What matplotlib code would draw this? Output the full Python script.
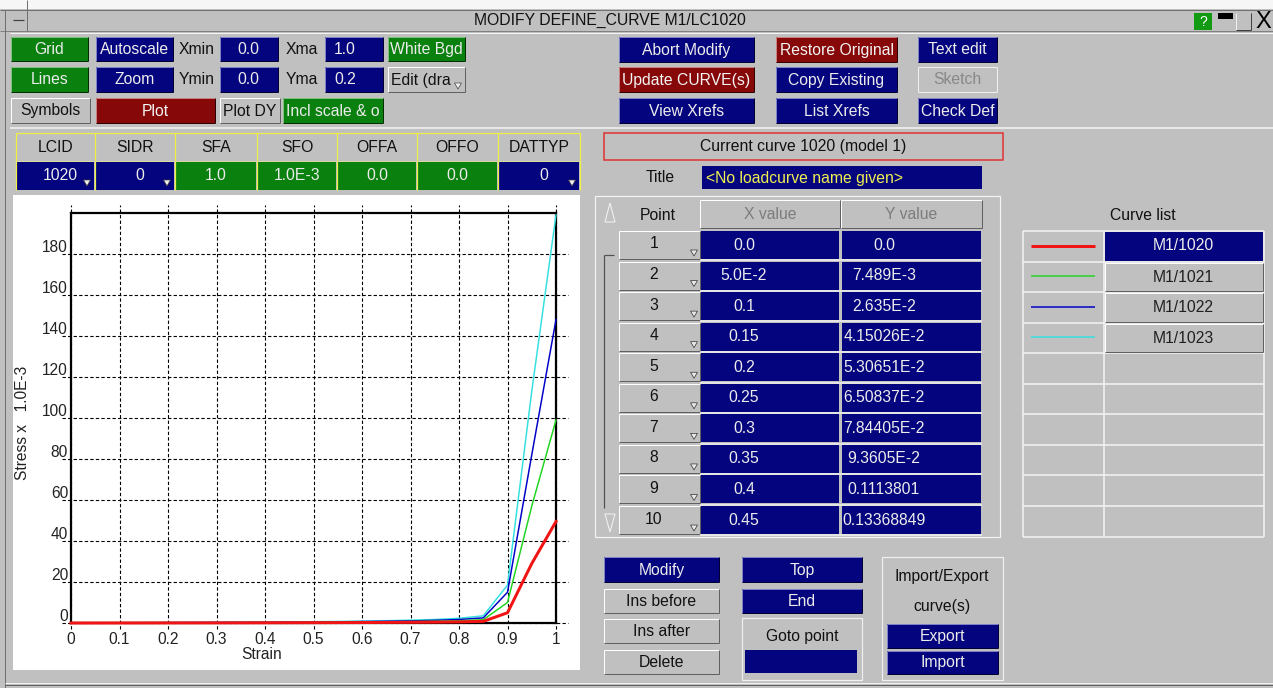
import matplotlib
matplotlib.use('Agg')
import matplotlib.pyplot as plt
from matplotlib.patches import Rectangle, Polygon
import matplotlib.transforms as mtrans
from matplotlib import font_manager

plt.rcParams['font.family'] = ['Liberation Sans', 'DejaVu Sans']
_names = {f.name for f in font_manager.fontManager.ttflist}
if 'Liberation Sans Narrow' in _names:
    TICK_FAMILY, TICK_FS = ['Liberation Sans Narrow', 'DejaVu Sans'], 12.8
else:
    TICK_FAMILY, TICK_FS = ['Liberation Sans', 'DejaVu Sans'], 11.2

# ---------------- data ----------------
strain = [0.0, 0.05, 0.1, 0.15, 0.2, 0.25, 0.3, 0.35, 0.4, 0.45, 0.5,
          0.55, 0.6, 0.65, 0.7, 0.75, 0.8, 0.85, 0.9, 0.95, 1.0]
curve_1020 = [0.0, 0.007489, 0.02635, 0.0415026, 0.0530651, 0.0650837, 0.0784405,
              0.093605, 0.1113801, 0.13368849, 0.16, 0.19, 0.23, 0.28, 0.34,
              0.42, 0.55, 0.8, 5.0, 29.0, 49.5]
curve_1021 = [0.0, 0.015, 0.05, 0.08, 0.1, 0.13, 0.16, 0.19, 0.22, 0.27, 0.32,
              0.38, 0.46, 0.56, 0.68, 0.85, 1.1, 1.6, 10.0, 57.0, 99.0]
curve_1022 = [0.0, 0.022, 0.08, 0.12, 0.16, 0.2, 0.24, 0.28, 0.33, 0.4, 0.48,
              0.57, 0.69, 0.84, 1.0, 1.3, 1.7, 2.5, 15.0, 82.0, 148.0]
curve_1023 = [0.0, 0.03, 0.1, 0.16, 0.21, 0.26, 0.31, 0.37, 0.44, 0.53, 0.64,
              0.76, 0.92, 1.1, 1.4, 1.7, 2.3, 3.5, 18.5, 113.0, 199.0]
curve_names = ['M1/1020', 'M1/1021', 'M1/1022', 'M1/1023']
curve_colors = ['#f01414', '#22d422', '#0000c8', '#34e0e0']
curve_widths = [3.0, 1.5, 1.5, 1.5]
x_ticks = [0, 0.1, 0.2, 0.3, 0.4, 0.5, 0.6, 0.7, 0.8, 0.9, 1.0]
x_tick_labels = ['0', '0.1', '0.2', '0.3', '0.4', '0.5', '0.6', '0.7', '0.8', '0.9', '1']
y_ticks = [0, 20, 40, 60, 80, 100, 120, 140, 160, 180]
table_points = ['1', '2', '3', '4', '5', '6', '7', '8', '9', '10']
table_x = ['0.0', '5.0E-2', '0.1', '0.15', '0.2', '0.25', '0.3', '0.35', '0.4', '0.45']
table_y = ['0.0', '7.489E-3', '2.635E-2', '4.15026E-2', '5.30651E-2', '6.50837E-2',
           '7.84405E-2', '9.3605E-2', '0.1113801', '0.13368849']
param_names = ['LCID', 'SIDR', 'SFA', 'SFO', 'OFFA', 'OFFO', 'DATTYP']
param_values = ['1020', '0', '1.0', '1.0E-3', '0.0', '0.0', '0']

# ---------------- figure ----------------
W, H = 1273, 688
GRAY = '#c0c0c0'
NAVY = '#04047e'
GREEN = '#0a800e'
DRED = '#860808'
LT = '#ececec'
FS = 11.3

fig = plt.figure(figsize=(W / 100, H / 100), dpi=100, facecolor=GRAY)
bg = fig.add_axes([0, 0, 1, 1])
bg.set_xlim(0, W)
bg.set_ylim(H, 0)
bg.axis('off')


def line(xs, ys, c, lw=1.0, **kw):
    bg.plot(xs, ys, color=c, lw=lw * 0.72, solid_capstyle='butt', **kw)


def rect(x0, y0, x1, y1, fc, ec='none', lw=0):
    bg.add_patch(Rectangle((x0, y0), x1 - x0, y1 - y0, fc=fc, ec=ec, lw=lw * 0.72))


KINDS = {
    'blue': (NAVY, '#8080c8', '#000030', LT),
    'green': (GREEN, '#80c080', '#003000', LT),
    'red': (DRED, '#c88080', '#300000', '#f4f4f4'),
    'gray': (GRAY, '#ffffff', '#606060', '#111111'),
    'dis': (GRAY, '#f0f0f0', '#f0f0f0', '#888888'),
}


def text(x, y, s, c='#111111', fs=FS, ha='center', va='center', **kw):
    bg.text(x, y, s, color=c, fontsize=fs, ha=ha, va=va, **kw)


def btn(x0, y0, x1, y1, label='', kind='blue', tx=None, ha='center', fs=FS, tc=None):
    fc, light, dark, col = KINDS[kind]
    rect(x0, y0, x1, y1, fc)
    line([x0, x1], [y0, y0], light)
    line([x0, x0], [y0, y1], light)
    line([x0, x1], [y1, y1], dark)
    line([x1, x1], [y0, y1], dark)
    if label:
        text(tx if tx is not None else (x0 + x1) / 2, (y0 + y1) / 2 + 0.5, label,
             c=tc or col, fs=fs, ha=ha)


def tri(cx, cy, fc='#f0f0f0', ec='#404040'):
    bg.add_patch(Polygon([(cx - 3.5, cy - 3), (cx + 3.5, cy - 3), (cx, cy + 3)],
                         closed=True, fc=fc, ec=ec, lw=0.5))


# window frame / title bar
rect(0, 0, W, 9, '#f6f6f6')
line([0, W], [10, 10], '#707070')
line([0, W], [31, 31], '#808080')
line([10, W], [32.5, 32.5], '#f4f4f4')
line([5, 5], [10, H], '#707070')
line([27, 27], [0, 31], '#707070')
line([13, 24], [20, 20], '#404040', lw=1.2)
text(610, 20, 'MODIFY DEFINE_CURVE M1/LC1020', fs=FS)
rect(1194, 13, 1212, 30, '#129a12')
text(1203, 21.5, '?', c='white', fs=10)
rect(1218, 13, 1233, 19, '#000000')
line([1236, 1236], [13, 30], '#f0f0f0')
line([1236, 1251], [30, 30], '#404040')
line([1251, 1251], [13, 30], '#404040')
text(1263, 22, 'X', c='black', fs=17)
line([5, W], [685, 685], '#606060')
line([5, W], [683, 683], '#f0f0f0')

# left controls
btn(11, 37, 88, 61, 'Grid', 'green')
btn(96, 37, 173, 61, 'Autoscale', 'blue')
text(197, 49, 'Xmin')
btn(220, 37, 278, 61, '0.0', 'blue', tx=248)
text(302, 49, 'Xma')
btn(325, 37, 383, 61, '1.0', 'blue', tx=345)
btn(388, 37, 465, 61, 'White Bgd', 'green')

btn(11, 67, 88, 92, 'Lines', 'green')
btn(96, 67, 173, 92, 'Zoom', 'blue')
text(197, 80, 'Ymin')
btn(220, 67, 278, 92, '0.0', 'blue', tx=248)
text(302, 80, 'Yma')
btn(325, 67, 383, 92, '0.2', 'blue', tx=345)
btn(388, 67, 465, 92, 'Edit (dra', 'gray', tx=391, ha='left')
tri(458, 86)

btn(11, 98, 90, 123, 'Symbols', 'gray')
btn(96, 98, 215, 123, 'Plot', 'red')
btn(220, 98, 280, 123, 'Plot DY', 'gray')
btn(283, 98, 383, 123, 'Incl scale & o', 'green')

line([10, W], [127.5, 127.5], '#f4f4f4', lw=1.5)

# right top controls
btn(619, 37, 754, 62, 'Abort Modify', 'blue')
btn(776, 37, 897, 62, 'Restore Original', 'red')
btn(918, 37, 997, 62, 'Text edit', 'blue')
btn(619, 67, 754, 92, 'Update CURVE(s)', 'red')
btn(776, 67, 897, 92, 'Copy Existing', 'blue')
btn(918, 67, 997, 92, 'Sketch', 'dis')
btn(619, 98, 754, 123, 'View Xrefs', 'blue')
btn(776, 98, 897, 123, 'List Xrefs', 'blue')
btn(918, 98, 997, 123, 'Check Def', 'blue')

# parameter header table
cols = [16, 95, 175, 257, 337, 417, 498, 580]
kinds = ['blue', 'blue', 'green', 'green', 'green', 'green', 'blue']
rect(16, 133, 580, 160, GRAY)
for i, (nm, val, kd) in enumerate(zip(param_names, param_values, kinds)):
    x0, x1 = cols[i], cols[i + 1]
    text((x0 + x1) / 2, 147, nm)
    fc = NAVY if kd == 'blue' else GREEN
    rect(x0 + 1, 161, x1 - 1, 190, fc)
    off = 5 if kd == 'blue' else 0
    text((x0 + x1) / 2 + off, 175, val, c=LT)
    if kd == 'blue':
        tri(x1 - 8, 183)
line([16, 580], [133, 133], '#f0f040', lw=1.2)
for x in cols:
    line([x, x], [133, 190], '#f0f040', lw=1.2)
line([16, 580], [160.5, 160.5], '#d8d8a0', lw=1)

# current curve / title
rect(604, 133, 1003, 160, GRAY, ec='#e03030', lw=1.5)
text(803, 147, 'Current curve 1020 (model 1)')
text(660, 178, 'Title')
rect(702, 166, 982, 189, NAVY)
text(706, 178, '<No loadcurve name given>', c='#f0f050', ha='left')

# points table
rect(595, 196, 1000, 537, GRAY, ec='#f4f4f4', lw=1.2)
text(658, 216, 'Point')
btn(700, 200, 840, 228, 'X value', 'gray', tc='#7c7c7c')
btn(841, 200, 982, 228, 'Y value', 'gray', tc='#7c7c7c')
pitch = 30.56
for i in range(10):
    y0 = 231 + pitch * i
    y1 = y0 + 28
    btn(619, y0, 700, y1, '', 'gray')
    text(654, (y0 + y1) / 2 - 1, table_points[i])
    tri(694, y1 - 6, fc='#e8e8e8', ec='#303030')
    rect(701, y0, 839, y1, NAVY)
    rect(842, y0, 981, y1, NAVY)
    text(744, (y0 + y1) / 2, table_x[i], c=LT)
    text(884, (y0 + y1) / 2, table_y[i], c=LT)
    line([700, 982], [y1 + 1.3, y1 + 1.3], '#f0f0f0', lw=1.5)
# scroll markers
bg.add_patch(Polygon([(605, 222), (615, 222), (610, 203)], closed=True, fc='none',
                     ec='#f0f0f0', lw=0.8))
bg.add_patch(Polygon([(605, 514), (615, 514), (610, 532)], closed=True, fc='none',
                     ec='#f0f0f0', lw=0.8))
line([604, 604], [255, 508], '#505050', lw=1.2)
line([604, 614], [255, 255], '#505050', lw=1.2)

# curve list
text(1143, 216, 'Curve list')
for i in range(11):
    y = 231 + pitch * i
    line([1023, 1264], [y, y], '#f4f4f4', lw=1.5)
for x in [1023, 1103.5, 1264]:
    line([x, x], [231, 231 + pitch * 10], '#f4f4f4', lw=1.5)
for i, (nm, colr, lw) in enumerate(zip(curve_names, curve_colors, curve_widths)):
    y0 = 231 + pitch * i
    y1 = y0 + pitch - 1
    if i == 0:
        rect(1104.5, y0 + 0.5, 1263, y1, NAVY)
        text(1183, (y0 + y1) / 2, nm, c=LT)
    else:
        btn(1104.5, y0 + 1, 1263, y1, nm, 'gray', tc='#202020')
    line([1031, 1095], [(y0 + y1) / 2, (y0 + y1) / 2], colr, lw=lw)

# bottom buttons
btn(604, 557, 719, 582, 'Modify', 'blue')
btn(604, 589, 719, 613, 'Ins before', 'gray')
btn(604, 619, 719, 643, 'Ins after', 'gray')
btn(604, 650, 719, 674, 'Delete', 'gray')
btn(742, 557, 862, 582, 'Top', 'blue')
btn(742, 589, 862, 613, 'End', 'blue')
rect(742, 618, 862, 680, GRAY, ec='#f0f0f0', lw=1.2)
text(802, 637, 'Goto point')
rect(745, 650, 857, 673, NAVY)
rect(882, 557, 1003, 680, GRAY, ec='#f0f0f0', lw=1.2)
text(942, 576, 'Import/Export')
text(942, 607, 'curve(s)')
btn(887, 624, 998, 648, 'Export', 'blue')
btn(887, 651, 998, 674, 'Import', 'blue')

# plot panel
rect(13, 195, 580, 670, 'white')

# ---------------- the chart ----------------
ax = fig.add_axes([71 / W, (H - 623) / H, 485 / W, 410 / H])
ax.set_xlim(0, 1)
ax.set_ylim(0, 200)
ax.patch.set_alpha(0)
ax.set_xticks([])
ax.set_yticks([])
for sp in ax.spines.values():
    sp.set_linewidth(1.6)
    sp.set_color('black')

tx_data_ax = mtrans.blended_transform_factory(ax.transData, ax.transAxes)
tx_ax_data = mtrans.blended_transform_factory(ax.transAxes, ax.transData)
for xv in x_ticks:
    ax.plot([xv, xv], [-0.014, 1.02], transform=tx_data_ax, color='black', lw=0.8,
            ls=(0, (3, 2)), clip_on=False, zorder=1)
for yv in y_ticks:
    ax.plot([-0.018, 1.025], [yv, yv], transform=tx_ax_data, color='black', lw=0.8,
            ls=(0, (3, 2)), clip_on=False, zorder=1)

series = [curve_1023, curve_1022, curve_1021, curve_1020]
order = [3, 2, 1, 0]
for idx, ys in zip(order, series):
    ax.plot(strain, ys, color=curve_colors[idx], lw=curve_widths[idx] * 0.72,
            clip_on=False, zorder=3, solid_joinstyle='miter')

ylab_tr = mtrans.offset_copy(tx_ax_data, fig=fig, x=-3, y=2, units='dots')
for yv in y_ticks:
    ax.text(0, yv, str(yv), transform=ylab_tr, ha='right', va='baseline',
            fontsize=TICK_FS, color='#222222', family=TICK_FAMILY)
xlab_tr = mtrans.offset_copy(tx_data_ax, fig=fig, x=0, y=-17, units='dots')
for xv, lb in zip(x_ticks, x_tick_labels):
    ax.text(xv, 0, lb, transform=xlab_tr, ha='center', va='center',
            fontsize=TICK_FS, color='#222222', family=TICK_FAMILY)
ax.text(0.394, -0.078, 'Strain', transform=ax.transAxes, ha='center', va='center',
        fontsize=TICK_FS, color='#222222', family=TICK_FAMILY)
ax.text(-0.101, 0.488, 'Stress x   1.0E-3', transform=ax.transAxes, ha='center',
        va='center', rotation=90, fontsize=TICK_FS, color='#222222', family=TICK_FAMILY)

fig.savefig('out.png', dpi=100, facecolor=GRAY)
